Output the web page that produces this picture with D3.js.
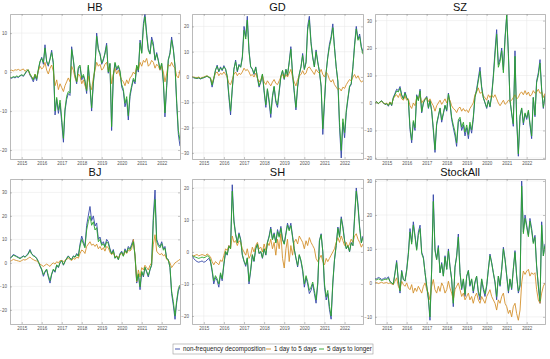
<!DOCTYPE html>
<html>
<head>
<meta charset="utf-8">
<script src="https://d3js.org/d3.v7.min.js"></script>
<style>
body{margin:0;background:#fff}
svg{display:block}
text{font-family:"Liberation Sans",Arial,Helvetica,sans-serif}
</style>
</head>
<body>
<svg id="chart" width="550" height="359"></svg>
<script>
// monthly values, Jun 2014 .. Dec 2022 (103 points per series)
const seriesNames = ["non-frequency decomposition", "1 day to 5 days", "5 days to longer"]
const yearTicks = [2015, 2016, 2017, 2018, 2019, 2020, 2021, 2022]

const hbAll = [-1.5,-1.6,-1.3,-1.5,-1.2,-1.4,-1.0,-0.8,-1.1,-0.5,0.2,
  0.5,-0.8,-1.5,-2.5,-1.0,-2.2,0.5,2.5,3.8,2.0,
  7.0,2.5,1.5,3.5,5.6,2.0,-11,-7,-10.6,-8,
  -13,-18,-10,-7,-5.5,-6,6.5,3,-1,-3,
  1,1.4,-2,-1,-2.5,-5.5,1.4,-4,-10,-3,
  1.4,10,6,4.8,2,3,5,7.4,-0.3,2,
  -15,-1.2,2.2,0.5,1.4,0,-3.8,-5,-8.9,-7,
  -12.3,-6.3,-4,-2,-3,1.4,0,8.2,5,12.5,
  15,10,6,4.8,9,7.4,3,5,3,0.5,
  2,-2.9,-11.5,-4,3,5,9,6,1.4,-8,-16,-19]
const hbShort = [0.4,0.5,0.3,0.6,0.5,0.7,0.4,0.6,0.8,0.2,0.6,
  0.5,-0.6,-1.2,-1.8,-0.5,-1.5,0.3,1.5,0.8,1.2,
  2.5,0.5,-0.5,1,1.8,0.2,-3.5,-2,-4.5,-3,
  -4,-5,-3.5,-2.5,-1.5,-2.5,1.5,0.5,-1.5,-2.5,
  -0.5,-1,-3,-2,-3.5,-4.5,-1,-3.5,-4.5,-1.5,
  0.5,2.5,1.5,2,0.5,1,2,2.5,0.5,1,
  -3,-0.5,1,-0.5,0.5,-1,-2,-2.5,-3.5,-2,
  -3,-1.5,-1,0,-0.5,1.5,0.5,2.5,1.5,3,
  2.5,3.5,1.5,2,3,2.5,1,2,1.5,0.5,
  1.5,0,-2.5,-0.5,2,1.5,2.5,1.5,1,-1,-1.5,0.5]
const hbLong = [-1.3,-1.4,-1.2,-1.3,-1.0,-1.2,-0.9,-0.7,-0.9,-0.4,0.3,
  0.6,-0.5,-1.2,-2.0,-0.6,-1.8,0.8,2.8,3.5,2.4,
  6.2,2.8,1.9,3.2,5.0,2.4,-10,-6.5,-9.8,-7.2,
  -12,-17,-9.5,-6.2,-5,-5.4,5.8,3.2,-0.6,-2.5,
  1.3,1.8,-1.5,-0.6,-2,-4.8,1.8,-3.4,-9.2,-2.5,
  1.8,9.2,5.6,4.5,2.3,3.4,4.6,6.8,0,2.3,
  -14,-0.8,2.5,0.9,1.7,0.4,-3.2,-4.4,-8,-6.3,
  -11.2,-5.6,-3.5,-1.6,-2.5,1.8,0.5,7.5,4.8,11.5,
  14.2,9.4,5.6,4.6,8.2,6.6,3.2,4.6,2.8,0.8,
  2.3,-2.4,-10.5,-3.5,3.2,4.6,8.2,5.8,1.6,-7.4,-15,-17.5]

const gdAll = [0,-0.3,-0.5,-0.6,-0.4,-0.8,-0.5,-0.3,0,0.3,-0.2,-0.5,
  -4,-1,2.5,4.7,2,4,2.5,4.5,3,
  0,-8,-15,-5,3,6.7,2,5,4,
  8,20,16,24,10.7,4,3,1,4,-0.5,-4,
  -2,1,-6,-12,-5,-10,-16,-8,-4,-10,
  -12,-6,0,2.5,-1,3,0.5,6,12,1,
  -6,-13,-4,1,4,9.3,3,6,20,24,
  14,8,4,10.7,6,2,-4,-22.7,-10,2,
  8,13,16,21,12,4,-2,-20,-32,-18,
  -24,-14,-9,-4,-3,4,13,20,15,17,12,10]
const gdShort = [0.2,0,-0.2,-0.3,0,-0.5,-0.2,0,0.3,0.5,0,-0.3,
  -2.5,-0.5,1.5,2,0.5,1.5,1,2,1,
  0,-2.5,-3,-1,1,2,0.5,1.5,1,
  2,3.5,2.5,3,2,0.5,1,0,1.5,-0.5,-2,
  -1,0.5,-2,-3,-1.5,-2.5,-3.5,-2,-1,-2.5,
  -3,-1.5,0,1,-0.5,1,0,1.5,3,0,
  -2,-3.5,-1,0.5,1,2.5,1,1.5,3.5,4,
  3,2,1,3,2,1.5,3,1,0,2,
  1,-1,-2,-1,-3,-4,-5,-4.5,-5.5,-4,
  -4.5,-3,-2,-1,-1.5,0,1,-0.5,0.5,-1,-2,-1.5]
const gdLong = [0,-0.2,-0.4,-0.5,-0.3,-0.6,-0.4,-0.2,0.1,0.4,0,-0.3,
  -3.2,-0.5,2.8,4.2,2.3,3.6,2.8,4,3.2,
  0.5,-7,-13.5,-4.5,3.2,6,2.4,4.6,3.8,
  7.5,18.5,15,22.5,10,4.2,3.2,1.4,3.8,0,-3.5,
  -1.6,1.2,-5.4,-11,-4.6,-9,-14.5,-7.4,-3.6,-9.2,
  -11,-5.4,0.4,2.6,-0.6,3,0.8,5.6,11,1.4,
  -5.4,-12,-3.6,1.2,4,8.5,3,5.6,18.5,22.5,
  13.2,7.6,4,10,5.6,2.2,-3.6,-20.5,-9,2.2,
  7.6,12,15,19.5,11.4,4,-1.6,-18,-29,-16.5,
  -22,-13,-8.4,-3.6,-2.6,4,12,19,14.5,16,11.5,9]

const szAll = [0,0.5,-0.3,0.4,0.8,0,-0.6,-0.3,-1.2,0.3,-1,
  2,3.5,5,4.5,6,3,1.5,4,2,1,
  -9.7,-14.5,-7,-10,3,1,5,-3.6,0,1.5,
  2.4,-2,1,-3,-10,-18,-8,-5,-2,-7,
  -4,-1,-3,3.6,0,-6,-9,-12,-15.8,-7,
  -6,-10,-8,-12,-9,-13,-8,-11,-6,2.4,
  5,9,13,6,2,0,-2,1,-1.5,3,
  10,19,26.7,14,16,20,12,24,32,18,
  1,-4,-8.5,19,-6,-19.4,-5,-2,-8,-4,
  -6,-3,-8,-13,2,-5,8,11,15.8,5,-2,3]
const szShort = [0,0.3,-0.2,0.3,0.6,0,-0.4,0,-0.8,0.4,-0.5,
  1.5,2.5,3,2,3.5,1.5,1,2.5,1,1.5,
  -1,-2,0,-1,2,1.5,3,0,1,1.5,
  2,0.5,1.5,0,-1,-3,-1,0,1,-0.5,
  0.5,1.5,0,2,1,-1,-2,-2.5,-3.5,-2,
  -1.5,-3,-2,-3,-2.5,-3.5,-2,-1,0,3,
  4,5.5,3.5,4,2.5,2,1,3,2,3,
  2,3,1.5,0,-1,0,1,-0.5,0,1,
  0.5,1,2,3,1.5,2,3.5,4,3,4.5,
  3,4,2.5,3,4.5,3.5,4,5,3.5,4,2,3.5]
const szLong = [0,0.4,-0.2,0.4,0.7,0.1,-0.5,-0.2,-1,0.2,-0.8,
  1.8,3,4.4,4,5.4,2.8,1.4,3.6,1.8,0.8,
  -8.6,-13.5,-6.4,-9,2.6,0.8,4.4,-3.2,0,1.2,
  2,-1.8,0.8,-2.8,-9,-17,-7.4,-4.6,-1.8,-6.2,
  -3.6,-0.8,-2.6,3.2,0.2,-5.2,-8,-10.5,-14.5,-6.2,
  -5.2,-8.8,-7,-10.6,-8,-11.5,-7,-9.8,-5.2,2,
  4.4,8,11.5,5.4,1.8,0.2,-1.6,0.8,-1.2,2.6,
  9,17.5,25,13,15,19,11,23,32,17,
  1.2,-3.6,-7.6,17,-5.4,-18.5,-4.6,-1.8,-7.2,-3.6,
  -5.4,-2.6,-7.2,-12,2,-4.4,7.4,10,14.5,4.6,-1.6,2.6]

const bjAll = [2.1,2.6,3.6,3.2,2.8,2.4,2,2.5,3,2.6,3.2,
  4.2,5.7,4,3.2,2.8,2,0.5,-1.4,-3,-5.7,
  -4,-3,-6,-8.6,-5,-3,-4,-1,-2,0,
  1,-1,0.5,2,3,2,1.5,3,2.5,4,
  3,8,11.4,9,7,16,20,24,18,20,
  15.7,17,10,11,8,9,7,10,9,6,
  4,5.7,2,3,1.4,4,5,3,6,4.5,
  7,6,8,10,3,-8.6,-5,-11.4,-4,-6,
  -2,-4,-6,-3,-1,20,31,10,8,7,
  9,6,7,2,1.4,-2,-13,-18,-24,-17,-12,-10]
const bjShort = [0.7,1,1.5,1.2,1,0.8,0.6,1,1.4,1.2,1.5,
  2,2.5,1.8,1.4,1,0.8,0.2,-0.5,-1,-1.5,
  -1,-0.5,-1,-1.5,-0.5,0,-0.5,0.5,0,1,
  1,0.5,1,1.5,2,1.5,1,2,1.5,2.5,
  2,4,5.5,5,4,7,8,9,7.5,8,
  7,8,6,7,5.5,6.5,5,7,6.5,4.5,
  3.5,4.5,2.5,3,2,3.5,4,3,5,4,
  5.5,5,6,10,3,-8,-3,-6,-2,-3,
  -1,-2,-3,-1,0,8,12,5,4,3.5,
  4,3,3.5,1.5,1,0,-2,-1,0,0.5,1,1.5]
const bjLong = [1.9,2.4,3.2,3,2.6,2.2,1.8,2.3,2.8,2.4,3,
  3.8,5.2,3.7,3,2.6,1.8,0.6,-1.2,-2.6,-5,
  -3.6,-2.6,-5.4,-7.6,-4.6,-2.6,-3.6,-0.8,-1.8,0.2,
  1,-0.8,0.6,1.8,2.8,1.8,1.4,2.8,2.4,3.6,
  2.8,7.2,10,8,6.4,14,17.5,20,16,17.5,
  14,15,9,10,7.4,8.2,6.5,9,8.2,5.6,
  3.8,5.2,2,2.8,1.4,3.6,4.6,2.8,5.4,4.2,
  6.4,5.6,7.2,9,2.8,-7.6,-4.6,-10.2,-3.6,-5.4,
  -1.8,-3.6,-5.4,-2.8,-0.8,18,27,9,7.2,6.4,
  8.2,5.4,6.4,1.8,1.4,-1.8,-12,-16.5,-22.5,-16,-11,-9.4]

const shAll = [-1,-2,-2.6,-3,-3.2,-3,-2.8,-3.2,-3,-2.5,-2,
  -3,-6,-10,-8,-9,-11,-7,-9,-4,0,
  -1,2,1,21,10,5.7,3,6,4,-1,
  -3,-4.5,-2,-10,-6,-1,-3,1,2.6,-0.5,
  0,-2,1,-1,3,5,7.8,4,6,3,
  7,5,8,4,2.6,6,9,7,9,5,
  1,-2,-4.7,-1,-3,-6,-11,-8,-10,-13,
  -12,-10,-13,-16,-10,3.6,5.7,0,-11,-15,
  -13,-18,-21,-10,-2.6,2,7.8,5,11,8,
  3.6,1,2,0,3,2,11,20,15,7.8,3,5]
const shShort = [-1,-1.2,-1,-0.8,-1.2,-1,-0.8,-1,-1.2,-0.6,-1,
  -1.5,-3,-4,-3,-3.5,-4,-2.5,-3,-1,1,
  0.5,2,1,5,3,3.5,2,3.5,3,1,
  0,-1,1,-2,-1,1.5,0,2,3,1,
  1.5,0,2.5,0.5,3,2,4,1,3,-1,
  4,1,5.7,-2,-5,1,4,-3,2,-1,
  3,4,2.5,5,4,3,1,3.5,2,4.5,
  3,2,1,-2,-3,-2,-1,-3,-4,-2,
  -3,-2,-1,0,1,3,4.5,3,5,3.5,
  2,3,1.5,2.5,4,3,5,5.7,4,3,1.5,2.5]
const shLong = [-1,-1.4,-1.6,-1.8,-2,-1.8,-1.6,-1.8,-1.6,-1.2,-1.3,
  -2.5,-5.5,-9,-7.4,-8.4,-10,-6.5,-8.4,-3.6,0.2,
  -0.8,1.8,1,19,9.4,5.4,2.8,5.6,3.6,-0.8,
  -2.8,-4,-1.8,-9.2,-5.6,-0.8,-2.8,1,2.4,-0.4,
  0.2,-1.8,1,-0.8,2.8,4.6,7.2,3.8,5.6,2.8,
  6.4,4.6,7.4,3.8,2.4,5.6,8.4,6.6,8.2,4.6,
  1,-1.8,-4.2,-0.8,-2.6,-5.4,-10,-7.4,-9.2,-12,
  -11,-9.4,-12,-15,-9.4,3.4,5.4,0.2,-10,-14,
  -12,-17,-20,-9.4,-2.4,2,7.4,4.6,10.4,7.4,
  3.4,1,2,0.2,2.8,2,10.4,19,14,7.4,2.8,4.6]

const stockAll = [1.3,1.2,1.6,1.4,1,1.2,1.5,1.3,1.8,0.5,0,
  -0.5,3,6.6,0.8,-3,3.7,1,0.5,4,9,
  16,12,18,14,10,15,17,9,7.6,3,
  -1.2,-5,-11,4,26,10,7,11,3,6,
  2,8,4,10,5,1,-7,4.7,8,14.4,
  3,-2,1,-4,2,3.7,-1,1,-3,0,
  2,-3,-5,1,-2,-4,-1,4,8.5,6,
  3,0,-5,2,-1,4,10.5,7,2,-3,
  1,-2,4,9.5,2,-3,-1,30,15,20,
  17,14,19,16,12,14,5,-1,-6,18,8,11.5]
const stockShort = [0,0.1,-0.2,0,0.2,-0.1,0,0.1,-0.2,0,-0.3,
  -0.5,0.5,1.5,-1,-2,0.5,-0.5,-1,0,-1.5,
  -2,-0.5,-3,-1.5,-2.5,-1,-2,-3,-1,0,
  -2,-3,-5,-1,1,-2,-3,-1,-2.5,0,
  -1,-3,-2,0.5,-1.5,-3,-5,-2,-1,0,
  -2,-4,-3,-5,-4,-3,-5,-4,-6,-4,
  -3,-5,-6,-4,-5,-6,-4,-3,-2,-4,
  -5,-6,-8,-5,-6,-4,-3,-6,-7,-9,
  -8,-10,-7,-6,-9,-11,-8,0,3.5,2.5,
  3.5,4,2,3,2.5,3,-2,-5,-6,-3,-1,0]
const stockLong = [1,0.9,1.2,1,0.7,0.9,1.1,1,1.4,0.4,0,
  -0.3,2.8,6,0.9,-2.4,3.4,1,0.6,3.6,8.4,
  15,11.4,17,13.4,9.6,14,16,8.6,7.2,3,
  -0.8,-4.4,-10,3.8,24,9.4,6.8,10.4,3,5.6,
  2,7.6,4,9.4,4.8,1.2,-6,4.6,7.6,13.5,
  3,-1.6,1.2,-3.4,2,3.6,-0.6,1.2,-2.4,0.4,
  2,-2.4,-4,1.2,-1.4,-3.2,-0.6,4,8,5.8,
  3,0.4,-4,2,-0.6,4,10,6.8,2.2,-2.4,
  1.2,-1.6,4,9,2.2,-2.4,-0.6,28.5,14.5,19,
  16.4,13.6,18.2,15.4,11.6,13.4,5,-0.6,-5.4,17,8,11]

const months = d3.timeMonth.range(new Date(2014, 5, 1), new Date(2023, 0, 1))

const colors = ["#3346a8", "#d4912c", "#2ba62b"]
const colX = [[10, 180], [192, 363], [375, 545]]
const rowY = [[14, 159], [179, 324]]

// axis limits (MATLAB "axis tight")
const panels = [
  {name: "HB", col: 0, row: 0, lim: [-22.3, 14.9], ticks: [-20, -10, 0, 10], s: [hbAll, hbShort, hbLong]},
  {name: "GD", col: 1, row: 0, lim: [-32.4, 24.9], ticks: [-30, -20, -10, 0, 10, 20], s: [gdAll, gdShort, gdLong]},
  {name: "SZ", col: 2, row: 0, lim: [-20.4, 32.4], ticks: [-20, -10, 0, 10, 20, 30], s: [szAll, szShort, szLong]},
  {name: "BJ", col: 0, row: 1, lim: [-26, 35.7], ticks: [-20, -10, 0, 10, 20, 30], s: [bjAll, bjShort, bjLong]},
  {name: "SH", col: 1, row: 1, lim: [-22.5, 22.8], ticks: [-20, -10, 0, 10, 20], s: [shAll, shShort, shLong]},
  {name: "StockAll", col: 2, row: 1, lim: [-12.1, 30.6], ticks: [-10, 0, 10, 20, 30], s: [stockAll, stockShort, stockLong]}
]

const svg = d3.select("#chart")
svg.append("rect").attr("width", 550).attr("height", 359).attr("fill", "#fff")

panels.forEach(function(p, k){
    let [x0, x1] = colX[p.col]
    let [y0, y1] = rowY[p.row]

    let x = d3.scaleTime()
        .domain([months[0], months[months.length - 1]])
        .range([x0, x1])
    let y = d3.scaleLinear().domain(p.lim).range([y1, y0])

    let g = svg.append("g")
    let yearDates = yearTicks.map(d => new Date(d, 0, 1))

    // grid
    g.selectAll(".vgrid").data(yearDates).join("line")
        .attr("x1", d => x(d)).attr("x2", d => x(d))
        .attr("y1", y0).attr("y2", y1)
        .attr("stroke", "#e6e6e6").attr("stroke-width", 0.5)
    g.selectAll(".hgrid").data(p.ticks).join("line")
        .attr("x1", x0).attr("x2", x1)
        .attr("y1", d => y(d)).attr("y2", d => y(d))
        .attr("stroke", "#e6e6e6").attr("stroke-width", 0.5)

    // lines
    svg.append("clipPath").attr("id", "clip" + k)
        .append("rect").attr("x", x0).attr("y", y0).attr("width", x1 - x0).attr("height", y1 - y0)
    let line = d3.line().x((d, i) => x(months[i])).y(d => y(d))
    p.s.forEach(function(vals, j){
        g.append("path").datum(vals)
            .attr("d", line)
            .attr("fill", "none")
            .attr("stroke", colors[j])
            .attr("stroke-width", 0.9)
            .attr("stroke-linejoin", "round")
            .attr("clip-path", `url(#clip${k})`)
    })

    // axes (ticks inside, labels tiny like the scaled-down MATLAB figure)
    let xb = g.append("g").attr("transform", `translate(0,${y1})`)
        .call(d3.axisBottom(x).tickValues(yearDates).tickFormat(d3.timeFormat("%Y")).tickSizeInner(-2).tickSizeOuter(0).tickPadding(3))
    let xt = g.append("g").attr("transform", `translate(0,${y0})`)
        .call(d3.axisTop(x).tickValues(yearDates).tickFormat("").tickSizeInner(-2).tickSizeOuter(0))
    let yl = g.append("g").attr("transform", `translate(${x0},0)`)
        .call(d3.axisLeft(y).tickValues(p.ticks).tickSizeInner(-2).tickSizeOuter(0).tickPadding(3))
    let yr = g.append("g").attr("transform", `translate(${x1},0)`)
        .call(d3.axisRight(y).tickValues(p.ticks).tickFormat("").tickSizeInner(-2).tickSizeOuter(0))
    ;[xb, xt, yl, yr].forEach(a => {
        a.select(".domain").attr("stroke", "#8c8c8c").attr("stroke-width", 0.6)
        a.selectAll(".tick line").attr("stroke", "#8c8c8c").attr("stroke-width", 0.5)
        a.selectAll("text").attr("font-size", 4.5).attr("fill", "#555")
            .attr("font-family", "Liberation Sans, Arial, sans-serif")
    })

    g.append("text")
        .attr("x", (x0 + x1) / 2).attr("y", y0 - 3)
        .attr("text-anchor", "middle")
        .attr("font-size", 11)
        .attr("fill", "#111")
        .text(p.name)
})

// legend
let lg = svg.append("g")
lg.append("rect").attr("x", 173).attr("y", 344).attr("width", 200).attr("height", 10)
    .attr("fill", "#fff").attr("stroke", "#9a9a9a").attr("stroke-width", 0.6)
let lx = [175, 266, 319]
seriesNames.forEach(function(name, i){
    lg.append("line").attr("x1", lx[i]).attr("x2", lx[i] + 5)
        .attr("y1", 349).attr("y2", 349)
        .attr("stroke", colors[i]).attr("stroke-width", 0.9)
    lg.append("text").attr("x", lx[i] + 8).attr("y", 351.3)
        .attr("font-size", 6.3).attr("fill", "#222")
        .text(name)
})
</script>
</body>
</html>
